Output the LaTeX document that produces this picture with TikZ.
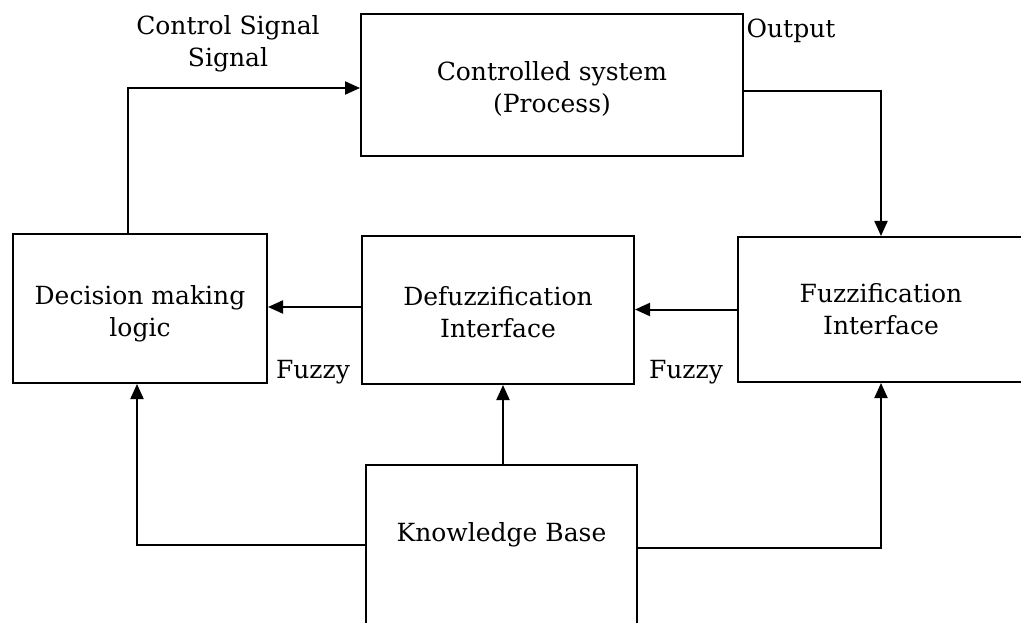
\documentclass[tikz,border=0pt]{standalone}
\usepackage{fontspec}
\setmainfont{DejaVu Serif}
\usetikzlibrary{arrows.meta}
\newcommand{\lowerline}[2]{\raisebox{-#1}[\height][\depth]{#2}}
\begin{document}
\begin{tikzpicture}[x=1pt,y=-1pt,
  font=\fontsize{25}{32}\selectfont,
  block/.style={draw,line width=2pt,rectangle,align=center,inner sep=0pt},
  lbl/.style={inner sep=0pt,align=center},
  arr/.style={line width=2pt,-{Triangle[length=15pt,width=13pt]}}]
\useasboundingbox (0,0) rectangle (1021,623);
\clip (0,0) rectangle (1021,623);
\fill[white] (0,0) rectangle (1021,623);

% blocks
\node[block,minimum width=382pt,minimum height=142pt] (cs) at (552,85)
  {\lowerline{4pt}{Controlled system}\\\lowerline{4pt}{(Process)}};
\node[block,minimum width=254pt,minimum height=149pt] (dec) at (140,308.5)
  {\lowerline{5pt}{Decision making}\\\lowerline{5pt}{logic}};
\node[block,minimum width=272pt,minimum height=148pt] (def) at (498,310)
  {\lowerline{2pt}{Defuzzification}\\\lowerline{2pt}{Interface}};
\node[block,minimum width=286pt,minimum height=145pt] (fuz) at (881,309.5)
  {Fuzzification\\Interface};
\node[block,minimum width=271pt,minimum height=175pt,
  label={[lbl,name=kbtext,yshift=18pt]center:Knowledge Base}] (kb) at (501.5,552.5) {};

% signal labels
\node[lbl] (ctrl) at (228,44) {Control Signal\\Signal};
\node[lbl] (out) at (791,31) {Output};
\node[lbl] (fz1) at (313,372) {Fuzzy};
\node[lbl] (fz2) at (686,372) {Fuzzy};

% connectors
\draw[arr] ([xshift=-12pt]dec.north) |- ([yshift=-3pt]cs.west);
\draw[arr] ([yshift=-6pt]cs.east) -| (fuz.north);
\draw[arr] (fuz.west) -- (fuz.west -| def.east);
\draw[arr] ([yshift=3pt]def.west) -- ([yshift=3pt]def.west -| dec.east);
\draw[arr] ([xshift=1.5pt]kb.north) -- ([xshift=1.5pt]kb.north |- def.south);
\draw[arr] ([yshift=7.5pt]kb.west) -| ([xshift=-3pt]dec.south);
\draw[arr] ([yshift=4.5pt]kb.east) -| (fuz.south);
\end{tikzpicture}
\end{document}
